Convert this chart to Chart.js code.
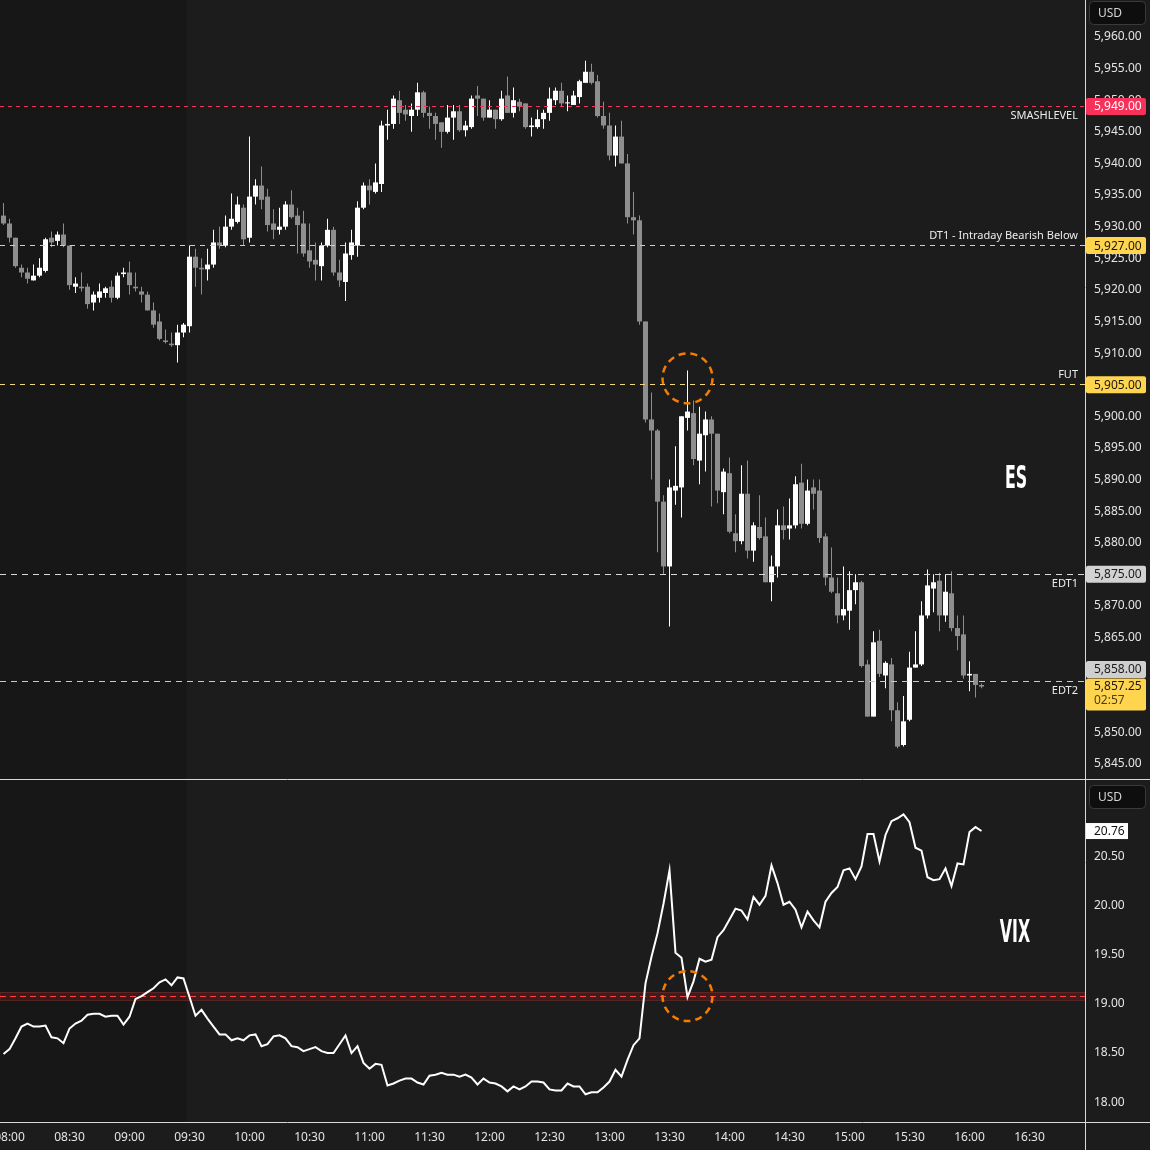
<!DOCTYPE html>
<html lang="en">
<head>
<meta charset="UTF-8">
<title>ES / VIX intraday</title>
<script src="https://cdn.jsdelivr.net/npm/chart.js"></script>
<style>
    html, body {
        margin: 0;
        padding: 0;
        background: #1c1c1c;
    }
    #wrap {
        width: 1150px;
        height: 1150px;
    }
</style>
</head>
<body>
<div id="wrap"><canvas id="chart" width="1150" height="1150"></canvas></div>
<script>
    // 3-minute ES bars, first bar 07:57
    const firstBar = '07:57';
    const barMinutes = 3;
    const sessionOpen = '09:30';

    const opens = [
        5931.75, 5930.5, 5928.25, 5923.5, 5922.75, 5921.5, 5922.25, 5923, 5928.25, 5927.75,
        5928.75, 5927, 5920.5, 5920.5, 5920.5, 5918, 5918.75, 5919.5, 5920.5, 5918.75,
        5922.5, 5922.75, 5920.5, 5919.75, 5919.25, 5916.75, 5915, 5912, 5911.5, 5911.25,
        5913.25, 5914.25, 5925.25, 5923.5, 5923.25, 5924, 5927.5, 5927, 5930, 5930.75,
        5933, 5928.25, 5934.75, 5936.5, 5934.75, 5930.5, 5929.5, 5930, 5933.5, 5931.75,
        5930.5, 5926.25, 5924.75, 5923.75, 5927, 5929.5, 5922.75, 5921.25, 5925.5, 5927,
        5933, 5936.5, 5935.5, 5936.75, 5946, 5946.25, 5950, 5948.5, 5947.5, 5948.5,
        5951.25, 5948, 5947.5, 5946.5, 5945, 5947.25, 5948.25, 5945.25, 5945.75, 5950.75,
        5950.25, 5947.25, 5948.5, 5947, 5950.75, 5948, 5949.75, 5949.5, 5945.75, 5945.75,
        5947, 5948, 5950, 5951.5, 5949.5, 5949.25, 5950.5, 5952.75, 5954.5, 5953,
        5947.5, 5946, 5941.25, 5944.25, 5940, 5931.5, 5931, 5915, 5899.5, 5897.75,
        5886.5, 5876.25, 5888.25, 5888.75, 5899.75, 5900.5, 5893, 5897, 5899.5, 5897.25,
        5888, 5891, 5881.5, 5880.25, 5887.75, 5878.75, 5882.5, 5881, 5873.75, 5876.25,
        5882.75, 5882.25, 5882.75, 5889.5, 5883, 5888.75, 5888.25, 5881, 5874.5, 5872,
        5868.5, 5869.25, 5872.5, 5873.75, 5860.75, 5852.5, 5864.5, 5859, 5860.75, 5853.5,
        5848, 5852, 5860.25, 5860.75, 5868.5, 5872.75, 5874, 5868.5, 5872, 5866.5,
        5865.5, 5859, 5859.25, 5857.5
    ];
    const highs = [
        5933.75, 5931.25, 5928.25, 5924, 5923.5, 5924, 5925, 5928.25, 5929.25, 5929.25,
        5930.5, 5927, 5922, 5922.75, 5921, 5919.75, 5921, 5920.5, 5921.5, 5922.75,
        5923.5, 5924.5, 5922.75, 5920.5, 5919.75, 5918, 5916.25, 5913.75, 5913.25, 5914.5,
        5914.75, 5927, 5926.5, 5925, 5926.5, 5929.5, 5930, 5931.75, 5935.25, 5934.75,
        5933.5, 5944.25, 5937.5, 5939.5, 5936, 5932.75, 5933, 5934, 5935.75, 5933,
        5932.5, 5930.5, 5927.5, 5927.5, 5931.25, 5930, 5924.75, 5927.5, 5929.5, 5934,
        5937, 5937.5, 5940, 5946.75, 5948.5, 5950.75, 5951.5, 5949.25, 5949.5, 5952.75,
        5951.5, 5949, 5948, 5946.5, 5949.25, 5949.25, 5949.25, 5946.75, 5950.75, 5952.25,
        5950.25, 5950, 5948.5, 5951.5, 5953.75, 5952, 5950.25, 5949.5, 5947.25, 5948.5,
        5948.5, 5952, 5952, 5952.75, 5950.75, 5951.5, 5953.25, 5956.25, 5955.75, 5954,
        5949.75, 5948, 5946, 5946.75, 5941.5, 5935.5, 5931.75, 5915, 5903.75, 5898,
        5887.5, 5890, 5895.25, 5900, 5907.25, 5902.5, 5901.5, 5900.75, 5900, 5897.25,
        5891.75, 5893.5, 5884.5, 5892.25, 5893, 5883.25, 5887.5, 5884, 5878, 5885.25,
        5885.75, 5887, 5890.5, 5892.5, 5890, 5890, 5890, 5881.5, 5879.25, 5874.5,
        5876.25, 5875.5, 5875, 5874, 5861.5, 5866, 5866.25, 5861.25, 5861.75, 5854.75,
        5855.75, 5862.75, 5866, 5870.75, 5875.75, 5875, 5875.25, 5875, 5875.5, 5868.5,
        5868.5, 5861.25, 5859.25, 5857.75
    ];
    const lows = [
        5930.25, 5927.5, 5923.5, 5922, 5921, 5921.5, 5922, 5922.75, 5926.75, 5927,
        5926.75, 5920, 5919.5, 5919.75, 5917, 5916.75, 5918, 5918.75, 5918, 5918.5,
        5922, 5919.25, 5919.75, 5918, 5916.75, 5914, 5912, 5911.5, 5911, 5908.5,
        5912.5, 5913.25, 5920.5, 5919.25, 5921.5, 5923.5, 5926.5, 5926.75, 5929.5, 5930.5,
        5927, 5927.5, 5933.5, 5932.75, 5929.25, 5928, 5928.75, 5929.5, 5931.25, 5925.75,
        5925.25, 5923.5, 5921.5, 5921.5, 5926.75, 5922.25, 5920.5, 5918.25, 5924.75, 5925.25,
        5932.75, 5933.5, 5935.25, 5935.5, 5943.75, 5945.5, 5946.25, 5946.75, 5945, 5947.5,
        5947.25, 5945.5, 5943.75, 5942.5, 5944.75, 5943.75, 5945, 5944.25, 5945.5, 5947.5,
        5946.75, 5947.25, 5945.5, 5946.75, 5948, 5947.25, 5948.25, 5945.5, 5944.25, 5945.5,
        5945.5, 5946.75, 5949.25, 5949, 5948.25, 5949.25, 5949.5, 5952.75, 5952.5, 5947.25,
        5945.5, 5940.5, 5939.5, 5940, 5930.5, 5928.75, 5914.5, 5899, 5890, 5878.5,
        5875, 5866.75, 5886, 5884, 5897.75, 5892.25, 5889.25, 5891.25, 5885.75, 5886.25,
        5884.5, 5881.5, 5878.5, 5879.75, 5877.5, 5877, 5880.5, 5873.75, 5870.75, 5874.5,
        5880.5, 5880.5, 5882.25, 5882.25, 5882.75, 5885.25, 5880, 5873.25, 5872, 5867.25,
        5867.75, 5866.25, 5870.25, 5860.25, 5852.5, 5852.5, 5858.75, 5857, 5851.75, 5847.5,
        5847.75, 5851.75, 5860.25, 5860.5, 5868, 5869, 5866, 5867.5, 5866, 5863,
        5858.5, 5856.5, 5855.5, 5857
    ];
    const closes = [
        5930.5, 5928.25, 5923.75, 5922.75, 5921.75, 5922.25, 5923.5, 5928, 5927.5, 5928.75,
        5927, 5920.75, 5921, 5920.25, 5917.75, 5919.25, 5919.75, 5920.25, 5918.75, 5922.25,
        5922.75, 5920.75, 5920.25, 5919.25, 5916.75, 5914.5, 5912.25, 5911.75, 5911.25, 5913.25,
        5914.5, 5925.25, 5923.5, 5923.25, 5924, 5927.5, 5927, 5930, 5931.25, 5933.5,
        5928, 5934.75, 5936.5, 5934.25, 5930.25, 5929.5, 5930, 5933.5, 5931.5, 5930.25,
        5925.75, 5924.5, 5924, 5927, 5929.5, 5922.75, 5921.5, 5925.75, 5927.5, 5933,
        5936.5, 5935.75, 5937, 5946, 5946.25, 5950.25, 5948, 5947.75, 5948.5, 5951.25,
        5948, 5947.5, 5946.25, 5945, 5947.25, 5948.25, 5945.25, 5946, 5950.25, 5950.25,
        5947.25, 5948.5, 5947, 5950.25, 5948, 5950, 5949, 5945.75, 5946, 5947,
        5948, 5950.25, 5951.5, 5949.5, 5949.5, 5950.75, 5953, 5954.5, 5952.75, 5947.5,
        5946, 5941.25, 5944.25, 5940, 5931.5, 5931, 5915, 5899.5, 5897.75, 5886.5,
        5876.25, 5888.75, 5889, 5900, 5900.75, 5893.25, 5897.25, 5899.5, 5897.25, 5888.25,
        5891.25, 5881.75, 5880.25, 5887.75, 5878.75, 5882.75, 5880.75, 5873.75, 5876.25, 5882.75,
        5882, 5882.75, 5889.25, 5883, 5888.25, 5887.75, 5880.75, 5874.5, 5872.25, 5868.5,
        5869.5, 5872.5, 5873.75, 5860.5, 5852.5, 5864.25, 5859.25, 5861, 5853.5, 5847.75,
        5851.75, 5860.25, 5860.75, 5868.5, 5873.25, 5873.75, 5868.5, 5872.25, 5866.5, 5865.25,
        5859, 5859.25, 5857.5, 5857.25
    ];

    // VIX, same 3-minute bars
    const vix = [
        18.49, 18.54, 18.65, 18.77, 18.80, 18.77, 18.77, 18.78, 18.66, 18.65,
        18.60, 18.75, 18.80, 18.83, 18.89, 18.90, 18.90, 18.87, 18.88, 18.88,
        18.79, 18.87, 19.05, 19.08, 19.12, 19.16, 19.22, 19.25, 19.19, 19.27,
        19.26, 19.07, 18.88, 18.94, 18.85, 18.77, 18.69, 18.69, 18.63, 18.65,
        18.63, 18.68, 18.69, 18.57, 18.59, 18.67, 18.68, 18.65, 18.57, 18.56,
        18.52, 18.54, 18.56, 18.52, 18.50, 18.50, 18.59, 18.68, 18.50, 18.57,
        18.40, 18.34, 18.39, 18.38, 18.17, 18.19, 18.22, 18.24, 18.24, 18.20,
        18.18, 18.27, 18.28, 18.30, 18.28, 18.28, 18.26, 18.28, 18.25, 18.18,
        18.24, 18.20, 18.19, 18.16, 18.11, 18.16, 18.13, 18.16, 18.21, 18.21,
        18.20, 18.13, 18.12, 18.12, 18.19, 18.16, 18.16, 18.08, 18.10, 18.10,
        18.15, 18.21, 18.33, 18.26, 18.43, 18.58, 18.65, 19.21, 19.48, 19.72,
        20.02, 20.36, 19.52, 19.47, 19.07, 19.23, 19.46, 19.43, 19.45, 19.68,
        19.75, 19.86, 19.97, 19.95, 19.86, 20.09, 20.01, 20.10, 20.41, 20.23,
        20.01, 20.04, 19.96, 19.78, 19.94, 19.85, 19.78, 20.04, 20.13, 20.19,
        20.36, 20.38, 20.27, 20.40, 20.73, 20.73, 20.45, 20.72, 20.86, 20.89,
        20.93, 20.85, 20.59, 20.56, 20.29, 20.26, 20.27, 20.38, 20.20, 20.43,
        20.42, 20.75, 20.80, 20.76
    ];

    const timeLabels = ['08:00', '08:30', '09:00', '09:30', '10:00', '10:30', '11:00', '11:30', '12:00',
        '12:30', '13:00', '13:30', '14:00', '14:30', '15:00', '15:30', '16:00', '16:30'];
    const esTicks = [5845, 5850, 5855, 5860, 5865, 5870, 5875, 5880, 5885, 5890, 5895, 5900,
        5905, 5910, 5915, 5920, 5925, 5930, 5935, 5940, 5945, 5950, 5955, 5960];
    const vixTicks = [18.0, 18.5, 19.0, 19.5, 20.0, 20.5];

    const levelNames = ['SMASHLEVEL', 'DT1 - Intraday Bearish Below', 'FUT', 'EDT1', 'EDT2'];
    const levelPrices = [5949, 5927, 5905, 5875, 5858];
    const lastPrice = 5857.25;
    const barCountdown = '02:57';
    const vixLevel = 19.08;
    const vixBand = 0.04;
    const circleTimes = ['13:39', '13:39'];
    const circleValues = [5906, 19.08];   // ES price, VIX value

    // ---- helpers
    const toMin = s => { const [h, m] = s.split(':').map(Number); return h * 60 + m; };
    const hhmm = v => String(Math.floor(v / 60)).padStart(2, '0') + ':' + String(Math.round(v % 60)).padStart(2, '0');
    const price = v => v.toLocaleString('en-US', { minimumFractionDigits: 2, maximumFractionDigits: 2 });

    const times = opens.map((_, i) => toMin(firstBar) + i * barMinutes);
    const upColor = '#ffffff';
    const downColor = '#8e8e8e';
    const barColors = opens.map((o, i) => closes[i] >= o ? upColor : downColor);

    const levelStyle = [
        { line: '#f2325a', tag: '#f7325a', text: '#ffffff', dash: [4, 4], side: 1 },
        { line: '#ffd23a', tag: '#ffd54f', text: '#161616', dash: [5, 5], side: -1 },
        { line: '#f0d77e', tag: '#ffd54f', text: '#161616', dash: [5, 5], side: -1 },
        { line: '#d8d8d8', tag: '#d2d2d2', text: '#1a1a1a', dash: [6, 5], side: 1 },
        { line: '#c9c9c9', tag: '#cfcfcf', text: '#1a1a1a', dash: [6, 5], side: 1 }
    ];

    const FONT = '"Noto Sans", "DejaVu Sans", sans-serif';
    Chart.defaults.font.family = FONT;
    Chart.defaults.font.size = 12;

    function box(ctx, x, y, w, h, r) {
        ctx.beginPath();
        ctx.moveTo(x + r, y);
        ctx.arcTo(x + w, y, x + w, y + h, r);
        ctx.arcTo(x + w, y + h, x, y + h, r);
        ctx.arcTo(x, y + h, x, y, r);
        ctx.arcTo(x, y, x + w, y, r);
        ctx.closePath();
    }

    function tag(ctx, cy, text, bg, fg) {
        ctx.fillStyle = bg;
        box(ctx, 1086, cy - 8.5, 60, 17, 2);
        ctx.fill();
        ctx.fillStyle = fg;
        ctx.fillText(text, 1094, cy + 0.5);
    }

    function usdBox(ctx, top) {
        ctx.fillStyle = '#0e0e0e';
        ctx.strokeStyle = '#3a3a3a';
        ctx.lineWidth = 1;
        box(ctx, 1089.5, top + 0.5, 56, 23, 4);
        ctx.fill();
        ctx.stroke();
        ctx.fillStyle = '#d4d4d4';
        ctx.fillText('USD', 1098, top + 12.5);
    }

    function bigName(ctx, str, cx, baseY) {
        ctx.save();
        ctx.font = 'bold 32px "DejaVu Sans Condensed", "DejaVu Sans", sans-serif';
        ctx.translate(cx, baseY);
        ctx.scale(0.55, 1);
        ctx.textAlign = 'center';
        ctx.textBaseline = 'alphabetic';
        ctx.fillStyle = '#ffffff';
        ctx.fillText(str, 0, 0);
        ctx.restore();
    }

    const overlay = {
        id: 'overlay',
        beforeDraw(chart) {
            const { ctx, chartArea, scales } = chart;
            ctx.save();
            ctx.fillStyle = '#1c1c1c';
            ctx.fillRect(0, 0, chart.width, chart.height);
            const xOpen = scales.x.getPixelForValue(toMin(sessionOpen) - barMinutes / 2);
            ctx.fillStyle = '#171717';
            ctx.fillRect(chartArea.left, chartArea.top, xOpen - chartArea.left, chartArea.bottom - chartArea.top);
            ctx.restore();
        },
        beforeDatasetsDraw(chart) {
            const { ctx, chartArea, scales: { y2 } } = chart;
            const top = y2.getPixelForValue(vixLevel + vixBand);
            const bot = y2.getPixelForValue(vixLevel - vixBand);
            const w = chartArea.right - chartArea.left;
            ctx.save();
            ctx.fillStyle = 'rgba(130, 35, 35, 0.32)';
            ctx.fillRect(chartArea.left, top, w, bot - top);
            ctx.strokeStyle = 'rgba(120, 45, 45, 0.6)';
            ctx.lineWidth = 1;
            ctx.strokeRect(chartArea.left, Math.floor(top) + 0.5, w, Math.round(bot - top));
            const ly = Math.floor(y2.getPixelForValue(vixLevel)) + 0.5;
            ctx.setLineDash([6, 4]);
            ctx.strokeStyle = '#ff4242';
            ctx.beginPath();
            ctx.moveTo(chartArea.left, ly);
            ctx.lineTo(chartArea.right, ly);
            ctx.stroke();
            ctx.restore();
        },
        afterDatasetsDraw(chart) {
            const { ctx, chartArea, scales: { y } } = chart;
            ctx.save();
            ctx.font = '11px ' + FONT;
            ctx.textAlign = 'right';
            ctx.textBaseline = 'middle';
            levelPrices.forEach((p, k) => {
                const st = levelStyle[k];
                const py = Math.floor(y.getPixelForValue(p)) + 0.5;
                ctx.setLineDash(st.dash);
                ctx.strokeStyle = st.line;
                ctx.lineWidth = 1;
                ctx.beginPath();
                ctx.moveTo(chartArea.left, py);
                ctx.lineTo(chartArea.right, py);
                ctx.stroke();
                ctx.fillStyle = '#ececec';
                ctx.fillText(levelNames[k], chartArea.right - 7, py + st.side * 9.5);
            });
            ctx.restore();
        },
        afterDraw(chart) {
            const { ctx, chartArea, scales: { x, y, y2 } } = chart;
            ctx.save();

            // pane frame
            ctx.strokeStyle = '#d9d9d9';
            ctx.lineWidth = 1;
            ctx.beginPath();
            ctx.moveTo(0, y.bottom - 0.5);
            ctx.lineTo(chart.width, y.bottom - 0.5);
            ctx.moveTo(0, chartArea.bottom + 0.5);
            ctx.lineTo(chart.width, chartArea.bottom + 0.5);
            ctx.moveTo(chartArea.right + 0.5, 0);
            ctx.lineTo(chartArea.right + 0.5, chart.height);
            ctx.stroke();

            // orange markers
            ctx.setLineDash([7, 5]);
            ctx.strokeStyle = '#f57c00';
            ctx.lineWidth = 2.5;
            [y, y2].forEach((sc, k) => {
                ctx.beginPath();
                ctx.arc(x.getPixelForValue(toMin(circleTimes[k])), sc.getPixelForValue(circleValues[k]), 25, 0, Math.PI * 2);
                ctx.stroke();
            });
            ctx.setLineDash([]);

            // price tags
            ctx.font = '12px ' + FONT;
            ctx.textAlign = 'left';
            ctx.textBaseline = 'middle';
            const lastY = y.getPixelForValue(lastPrice);
            const lastTop = lastY - 8;
            levelPrices.forEach((p, k) => {
                const st = levelStyle[k];
                let cy = y.getPixelForValue(p);
                if (cy + 8.5 > lastTop && cy - 8.5 < lastTop + 32) cy = lastTop - 9;
                tag(ctx, cy, price(p), st.tag, st.text);
            });
            ctx.fillStyle = '#ffd54f';
            box(ctx, 1086, lastTop, 60, 32, 2);
            ctx.fill();
            ctx.fillStyle = '#161616';
            ctx.fillText(price(lastPrice), 1094, lastY + 0.5);
            ctx.fillStyle = '#4a3d14';
            ctx.fillText(barCountdown, 1094, lastY + 14.5);

            const vy = y2.getPixelForValue(vix[vix.length - 1]);
            ctx.fillStyle = '#ffffff';
            ctx.fillRect(1086, vy - 8, 42, 16);
            ctx.fillStyle = '#111111';
            ctx.fillText(vix[vix.length - 1].toFixed(2), 1094, vy + 0.5);

            usdBox(ctx, 1);
            usdBox(ctx, y2.top + 5);

            bigName(ctx, 'ES', 1016, 488);
            bigName(ctx, 'VIX', 1015, 942);
            ctx.restore();
        }
    };

    const fixPad = s => { s.paddingTop = 0; s.paddingBottom = 0; s.paddingLeft = 0; s.paddingRight = 0; };
    const tickColor = '#e4e4e4';

    new Chart(document.getElementById('chart'), {
        type: 'bar',
        data: {
            datasets: [
                {
                    label: 'wick',
                    data: times.map((t, i) => ({ x: t, y: [lows[i], highs[i]] })),
                    backgroundColor: barColors,
                    barThickness: 1,
                    stack: 'ohlc',
                    inflateAmount: 0,
                    borderWidth: 0,
                    yAxisID: 'y'
                },
                {
                    label: 'body',
                    data: times.map((t, i) => ({ x: t, y: [opens[i], closes[i]] })),
                    backgroundColor: barColors,
                    barThickness: 5,
                    minBarLength: 1,
                    stack: 'ohlc',
                    inflateAmount: 0,
                    borderWidth: 0,
                    yAxisID: 'y'
                },
                {
                    type: 'line',
                    label: 'VIX',
                    data: times.map((t, i) => ({ x: t, y: vix[i] })),
                    borderColor: '#ffffff',
                    borderWidth: 2,
                    pointRadius: 0,
                    tension: 0,
                    yAxisID: 'y2'
                }
            ]
        },
        options: {
            responsive: false,
            animation: false,
            events: [],
            layout: { padding: 0 },
            plugins: {
                legend: { display: false },
                tooltip: { enabled: false }
            },
            scales: {
                x: {
                    type: 'linear',
                    min: toMin(firstBar) - 1.75,
                    max: toMin(firstBar) - 1.75 + 542.5,
                    offset: false,
                    grid: { display: false, drawTicks: false },
                    border: { display: false },
                    afterBuildTicks: s => { s.ticks = timeLabels.map(t => ({ value: toMin(t) })); },
                    afterFit: s => { fixPad(s); s.height = 28; },
                    ticks: {
                        callback: v => hhmm(v),
                        color: tickColor,
                        autoSkip: false,
                        maxRotation: 0,
                        padding: 8
                    }
                },
                y: {
                    type: 'linear',
                    position: 'right',
                    stack: 'panes',
                    stackWeight: 780,
                    stacked: false,
                    min: 5842.468,
                    max: 5965.853,
                    grid: { display: false, drawTicks: false },
                    border: { display: false },
                    afterBuildTicks: s => { s.ticks = esTicks.map(v => ({ value: v })); },
                    afterFit: s => { fixPad(s); s.width = 65; },
                    ticks: { callback: v => price(v), color: tickColor, padding: 9, autoSkip: false }
                },
                y2: {
                    type: 'linear',
                    position: 'right',
                    stack: 'panes',
                    stackWeight: 342,
                    min: 17.7982,
                    max: 21.2795,
                    grid: { display: false, drawTicks: false },
                    border: { display: false },
                    afterBuildTicks: s => { s.ticks = vixTicks.map(v => ({ value: v })); },
                    afterFit: s => { fixPad(s); s.width = 65; },
                    ticks: { callback: v => v.toFixed(2), color: tickColor, padding: 9, autoSkip: false }
                }
            }
        },
        plugins: [overlay]
    });
</script>
</body>
</html>
